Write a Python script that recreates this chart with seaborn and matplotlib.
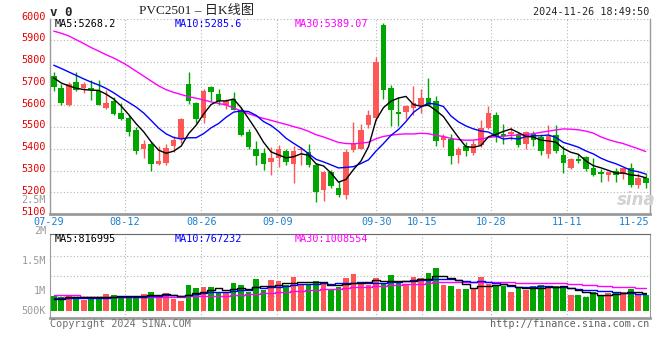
import numpy as np
import pandas as pd
import matplotlib
matplotlib.use("Agg")
import matplotlib.pyplot as plt
import matplotlib.transforms as mtrans
import seaborn as sns

# ---------------- data ----------------
tick_labels = ["07-29", "08-12", "08-26", "09-09", "09-30", "10-15", "10-28", "11-11", "11-25"]
tick_days = [0, 10, 20, 30, 43, 49, 58, 68, 78]

open_p = [5735, 5679, 5603, 5706, 5682, 5682, 5665, 5586, 5622, 5566,
          5543, 5488, 5400, 5424, 5328, 5334, 5415, 5447, 5699, 5612,
          5542, 5685, 5653, 5603, 5630, 5581, 5478, 5401, 5383, 5340,
          5356, 5392, 5328, 5394, 5386, 5325, 5211, 5292, 5221, 5188,
          5394, 5398, 5511, 5543, 5969, 5680, 5569, 5569, 5589, 5597,
          5635, 5621, 5439, 5447, 5371, 5413, 5380, 5417, 5497, 5557,
          5470, 5470, 5470, 5424, 5470, 5455, 5374, 5462, 5371, 5314,
          5351, 5363, 5310, 5292, 5279, 5299, 5284, 5313, 5234, 5264]
close_p = [5686, 5609, 5697, 5673, 5700, 5671, 5604, 5609, 5561, 5539,
           5476, 5392, 5424, 5330, 5346, 5406, 5441, 5539, 5618, 5539,
           5664, 5661, 5622, 5618, 5581, 5465, 5409, 5366, 5330, 5359,
           5397, 5340, 5392, 5398, 5325, 5200, 5292, 5229, 5188, 5386,
           5429, 5488, 5557, 5801, 5673, 5577, 5561, 5595, 5612, 5635,
           5603, 5438, 5455, 5366, 5401, 5389, 5424, 5497, 5566, 5455,
           5459, 5478, 5417, 5478, 5439, 5389, 5459, 5389, 5333, 5351,
           5343, 5307, 5279, 5284, 5292, 5279, 5310, 5234, 5267, 5244]
high_p = [5754, 5697, 5706, 5752, 5709, 5717, 5715, 5673, 5638, 5610,
          5554, 5500, 5442, 5432, 5412, 5421, 5461, 5542, 5755, 5615,
          5676, 5691, 5676, 5630, 5661, 5592, 5493, 5435, 5404, 5409,
          5417, 5397, 5411, 5409, 5424, 5333, 5298, 5302, 5252, 5397,
          5523, 5516, 5577, 5821, 5981, 5694, 5638, 5603, 5691, 5676,
          5726, 5642, 5470, 5470, 5409, 5432, 5439, 5531, 5597, 5569,
          5516, 5500, 5478, 5481, 5481, 5470, 5508, 5508, 5412, 5359,
          5378, 5368, 5356, 5307, 5295, 5313, 5314, 5333, 5287, 5287]
low_p = [5664, 5604, 5596, 5664, 5659, 5627, 5604, 5584, 5554, 5531,
         5459, 5378, 5360, 5299, 5325, 5325, 5385, 5427, 5607, 5520,
         5520, 5618, 5600, 5584, 5577, 5459, 5401, 5325, 5302, 5279,
         5317, 5325, 5241, 5325, 5317, 5157, 5160, 5218, 5177, 5168,
         5386, 5398, 5496, 5526, 5630, 5505, 5503, 5539, 5554, 5566,
         5597, 5412, 5409, 5330, 5337, 5366, 5371, 5409, 5490, 5432,
         5420, 5439, 5409, 5401, 5412, 5371, 5356, 5383, 5287, 5307,
         5333, 5299, 5276, 5246, 5252, 5246, 5259, 5226, 5218, 5221]
volume_m = [0.68, 0.64, 0.68, 0.64, 0.47, 0.61, 0.61, 0.74, 0.70, 0.64,
            0.64, 0.62, 0.74, 0.83, 0.70, 0.79, 0.52, 0.43, 1.14, 1.01,
            1.05, 1.05, 0.83, 0.79, 1.23, 1.14, 0.83, 1.41, 0.92, 1.36,
            1.32, 1.14, 1.50, 1.19, 1.19, 1.32, 1.19, 0.96, 1.05, 1.45,
            1.63, 1.20, 1.17, 1.45, 1.20, 1.59, 1.29, 1.16, 1.51, 1.45,
            1.67, 1.90, 1.16, 1.10, 0.96, 0.96, 1.02, 1.51, 1.20, 1.11,
            1.11, 0.83, 1.02, 0.95, 1.10, 1.14, 1.02, 1.11, 1.10, 0.70,
            0.70, 0.61, 0.83, 0.71, 0.80, 0.81, 0.83, 0.98, 0.74, 0.70]

# moving-average values before enough history is visible
ma5_head = [5727, 5703, 5690, 5679]
ma10_head = [5785, 5770, 5754, 5738, 5722, 5707, 5694, 5678, 5658]
ma30_head = [5942, 5932, 5920, 5902, 5885, 5866, 5850, 5833, 5818, 5800,
             5780, 5757, 5735, 5712, 5690, 5672, 5660, 5650, 5640, 5633,
             5625, 5616, 5609, 5602, 5588, 5575, 5562, 5550, 5540]
vma5_head = [0.55, 0.55, 0.61, 0.61]
vma10_head = [0.59, 0.59, 0.59, 0.59, 0.59, 0.56, 0.56, 0.56, 0.60]
vma30_head = [0.70, 0.70, 0.70, 0.70, 0.62, 0.62, 0.62, 0.62, 0.62, 0.62,
              0.62, 0.62, 0.62, 0.62, 0.62, 0.62, 0.62, 0.62, 0.65, 0.65,
              0.65, 0.65, 0.68, 0.68, 0.71, 0.73, 0.75, 0.77, 0.79]

ma_text = ["MA5:5268.2", "MA10:5285.6", "MA30:5389.07"]
vol_ma_text = ["MA5:816995", "MA10:767232", "MA30:1008554"]
price_ticks = [6000, 5900, 5800, 5700, 5600, 5500, 5400, 5300, 5200, 5100]
vol_tick_labels = ["2.5M", "2M", "1.5M", "1M", "500K"]
title_text = "PVC2501 – 日K线图"
stamp_text = "2024-11-26 18:49:50"

# ---------------- style ----------------
sns.set_style("white")
plt.rcParams["font.family"] = ["DejaVu Sans Mono", "Noto Sans CJK SC"]

W, H = 660, 360
fig = plt.figure(figsize=(6.6, 3.6), dpi=100)
fig.patch.set_facecolor("white")


def fx(x):
    return x / W


def fy(y):
    return 1 - y / H


L, R = 50, 649.5
ax = fig.add_axes([fx(L), fy(214), (R - L) / W, (214 - 18.5) / H])
axv = fig.add_axes([fx(L), fy(318), (R - L) / W, (318 - 234) / H])

RED = "#ff5656"
GREEN = "#00a600"
GRID = "#b4b4b4"
SPINE = "#9a9a9a"

n = len(close_p)
idx = np.arange(n)
o, h, l, c = map(np.asarray, (open_p, high_p, low_p, close_p))
up = c >= o
colors = np.where(up, RED, GREEN)


def moving_avg(series, win, head):
    s = pd.Series(series, dtype=float).rolling(win).mean().to_numpy()
    s[:win - 1] = head
    return s


ma5 = moving_avg(c, 5, ma5_head)
ma10 = moving_avg(c, 10, ma10_head)
ma30 = moving_avg(c, 30, ma30_head)
vol = np.asarray(volume_m)
vma5 = moving_avg(vol, 5, vma5_head)
vma10 = moving_avg(vol, 10, vma10_head)
vma30 = moving_avg(vol, 30, vma30_head)

grid_pos = np.asarray(tick_days) * 1.016 - 0.63

# ---------------- price panel ----------------
for v in price_ticks[1:-1]:
    ax.axhline(v, color=GRID, lw=0.8, ls=(0, (1, 2)), zorder=1)
ax.axhline(price_ticks[0], color=GRID, lw=0.8, ls=(0, (1, 2)), zorder=1, clip_on=False)
for p in grid_pos[1:-1]:
    ax.axvline(p, color=GRID, lw=0.8, ls=(0, (1, 2)), zorder=1)

ax.vlines(idx, l, h, colors=colors, lw=1, zorder=3)
ax.bar(idx, np.maximum(np.abs(c - o), 4), bottom=np.minimum(o, c), width=0.74,
       color=colors, linewidth=0, zorder=4)

sns.lineplot(x=idx, y=ma30, ax=ax, color="#ff00ff", lw=1, zorder=5)
sns.lineplot(x=idx, y=ma10, ax=ax, color="#0000ff", lw=1, zorder=6)
sns.lineplot(x=idx, y=ma5, ax=ax, color="black", lw=1, zorder=7)

ax.set_xlim(-0.5, n - 0.5)
ax.set_ylim(price_ticks[-1], price_ticks[0])
ax.set_xticks([])
ax.set_yticks([])
ax.set_xlabel("")
ax.set_ylabel("")
ax.spines["top"].set_visible(False)
ax.spines["left"].set_color(SPINE)
ax.spines["right"].set_color(SPINE)
ax.spines["bottom"].set_color(SPINE)
ax.spines["bottom"].set_linewidth(2)
ax.spines["left"].set_linewidth(1)
ax.spines["right"].set_linewidth(1)

ytr = mtrans.blended_transform_factory(ax.transAxes, ax.transData)
for v in price_ticks:
    ax.text(-0.007, v + 8, f"{v}", transform=ytr, ha="right", va="center",
            color="#e60000", fontsize=7.3, clip_on=False)

xtr = mtrans.blended_transform_factory(ax.transData, ax.transAxes)
for i, (lab, p) in enumerate(zip(tick_labels, grid_pos)):
    if i == len(tick_labels) - 1:
        ax.text(1.0, -0.04, lab, transform=ax.transAxes, ha="right", va="center",
                color="#1a80d0", fontsize=7.3, clip_on=False)
    else:
        ax.text(p, -0.04, lab, transform=xtr, ha="center", va="center",
                color="#1a80d0", fontsize=7.3, clip_on=False)

# ---------------- volume panel ----------------
for v in [2.46, 1.57, 0.68]:
    axv.axhline(v, color=GRID, lw=0.8, ls=(0, (1, 2)), zorder=1)

df = pd.DataFrame({"i": idx, "v": vol, "dir": np.where(up, "up", "down")})
sns.barplot(data=df, x="i", y="v", hue="dir", palette={"up": RED, "down": GREEN},
            dodge=False, width=0.76, saturation=1, errorbar=None, legend=False,
            linewidth=0, ax=axv, zorder=3)
for p in grid_pos[1:-1]:
    axv.axvline(p, color=GRID, lw=0.8, ls=(0, (1, 2)), zorder=1)

sns.lineplot(x=idx, y=vma30, ax=axv, color="#ff00ff", lw=1, drawstyle="steps-mid", zorder=5)
sns.lineplot(x=idx, y=vma10, ax=axv, color="#0000ff", lw=1, drawstyle="steps-mid", zorder=6)
sns.lineplot(x=idx, y=vma5, ax=axv, color="black", lw=1, drawstyle="steps-mid", zorder=7)

axv.set_xlim(-0.5, n - 0.5)
axv.set_ylim(-0.311, 3.42)
axv.set_xticks([])
axv.set_yticks([])
axv.set_xlabel("")
axv.set_ylabel("")
axv.spines["top"].set_color("#666666")
axv.spines["left"].set_color(SPINE)
axv.spines["right"].set_color(SPINE)
axv.spines["bottom"].set_color(SPINE)
axv.spines["bottom"].set_linewidth(2)

# ---------------- texts ----------------
fig.text(fx(50), fy(12), "v 0", fontsize=9, weight="bold", ha="left", va="center")
fig.text(fx(197), fy(11), title_text, fontsize=9.5, ha="center", va="center",
         family=["Liberation Serif", "Noto Sans CJK SC"], color="#222222")
fig.text(fx(649), fy(12), stamp_text, fontsize=7.3, ha="right", va="center")

for txt, xpos, col in zip(ma_text, [55, 175, 295], ["black", "#0000ff", "#ff00ff"]):
    fig.text(fx(xpos), fy(24), txt, fontsize=7.3, ha="left", va="center", color=col)
for txt, xpos, col in zip(vol_ma_text, [55, 175, 295], ["black", "#0000ff", "#ff00ff"]):
    fig.text(fx(xpos), fy(239), txt, fontsize=7.3, ha="left", va="center", color=col)

for txt, ypos in zip(vol_tick_labels, [200, 231, 261, 291, 311]):
    fig.text(fx(46), fy(ypos), txt, fontsize=7.3, ha="right", va="center", color="#9a9a9a")

fig.text(fx(50), fy(324), "Copyright 2024 SINA.COM", fontsize=7.3, ha="left",
         va="center", color="#707070")
fig.text(fx(649), fy(324), "http://finance.sina.com.cn", fontsize=7.3, ha="right",
         va="center", color="#606060")
fig.text(fx(636), fy(200), "sina", fontsize=12, style="italic", weight="bold",
         family="DejaVu Sans", color="#d2d2d2", ha="center", va="center")

fig.savefig("out.png", dpi=100)
